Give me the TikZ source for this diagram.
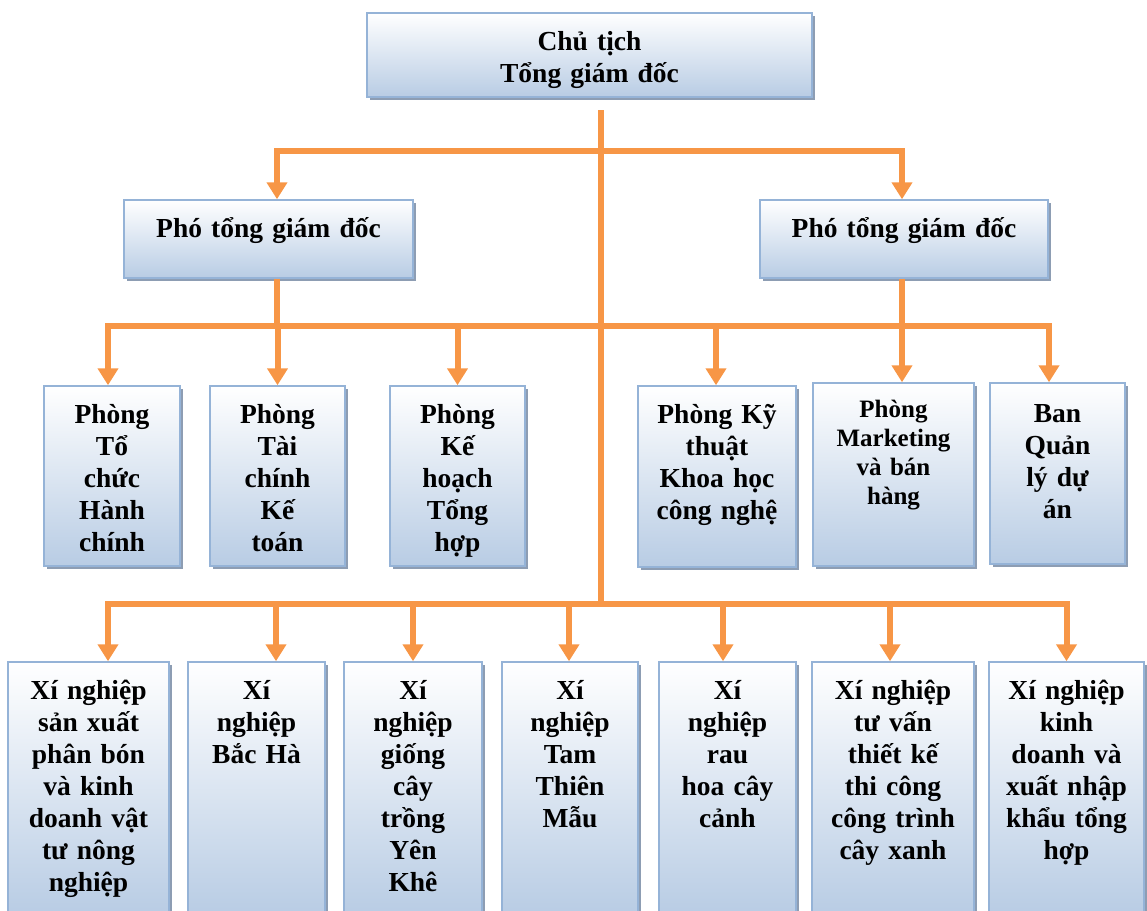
\documentclass[tikz,border=0pt]{standalone}
\usepackage{fontspec}
\setmainfont{Liberation Serif}
\usetikzlibrary{arrows.meta,shadows}

\definecolor{orgline}{HTML}{F79646}
\definecolor{boxline}{HTML}{95B3D7}
\definecolor{boxfill}{HTML}{B8CCE4}
\definecolor{boxshade}{HTML}{8D9DB3}

\tikzset{
  unit/.style={draw=boxline, line width=1.5pt, top color=white, bottom color=boxfill,
    drop shadow={shadow xshift=3pt, shadow yshift=-3pt, fill=boxshade, opacity=1},
    inner sep=0pt, align=center, text height=37pt,
    font=\fontsize{27.5}{32}\selectfont\bfseries},
  wire/.style={draw=orgline, line width=6pt},
  link/.style={wire, -{Triangle[width=20pt,length=17pt]}}
}

\begin{document}
\begin{tikzpicture}[x=1pt, y=-1pt]
    \useasboundingbox (0,0) rectangle (1147,910);

    % leadership
    \node[unit, text width=445pt, text depth=47pt] (ceo) at (589.5,55) {Chủ tịch\\Tổng giám đốc};
    \node[unit, text width=289pt, text depth=41pt] (pgd1) at (268.5,239) {Phó tổng giám đốc};
    \node[unit, text width=288pt, text depth=41pt] (pgd2) at (904,239) {Phó tổng giám đốc};

    % departments
    \node[unit, text width=136pt, text depth=143pt] (p1) at (112,476) {Phòng\\Tổ\\chức\\Hành\\chính};
    \node[unit, text width=135pt, text depth=143pt] (p2) at (277.5,476) {Phòng\\Tài\\chính\\Kế\\toán};
    \node[unit, text width=135pt, text depth=143pt] (p3) at (457.5,476) {Phòng\\Kế\\hoạch\\Tổng\\hợp};
    \node[unit, text width=158pt, text depth=144pt] (p4) at (717,476.5) {Phòng Kỹ\\thuật\\Khoa học\\công nghệ};
    \node[unit, text width=161pt, text height=34pt, text depth=149pt,
          font=\fontsize{25}{29}\selectfont\bfseries] (p5) at (893.5,474.5) {Phòng\\Marketing\\và bán\\hàng};
    \node[unit, text width=135pt, text height=39pt, text depth=142pt] (p6) at (1057.5,473.5) {Ban\\Quản\\lý dự\\án};

    % enterprises
    \node[unit, text width=161pt, text depth=216pt] (x1) at (88.5,788.5) {Xí nghiệp\\sản xuất\\phân bón\\và kinh\\doanh vật\\tư nông\\nghiệp};
    \node[unit, text width=137pt, text depth=216pt] (x2) at (256.5,788.5) {Xí\\nghiệp\\Bắc Hà};
    \node[unit, text width=138pt, text depth=216pt] (x3) at (413,788.5) {Xí\\nghiệp\\giống\\cây\\trồng\\Yên\\Khê};
    \node[unit, text width=136pt, text depth=216pt] (x4) at (570,788.5) {Xí\\nghiệp\\Tam\\Thiên\\Mẫu};
    \node[unit, text width=137pt, text depth=216pt] (x5) at (727.5,788.5) {Xí\\nghiệp\\rau\\hoa cây\\cảnh};
    \node[unit, text width=162pt, text depth=216pt] (x6) at (893,788.5) {Xí nghiệp\\tư vấn\\thiết kế\\thi công\\công trình\\cây xanh};
    \node[unit, text width=155pt, text depth=216pt] (x7) at (1066.5,788.5) {Xí nghiệp\\kinh\\doanh và\\xuất nhập\\khẩu tổng\\hợp};

    % connectors
    \coordinate (t0) at (601,110);
    \coordinate (b1) at (601,151);
    \coordinate (b2) at (601,326);
    \coordinate (b3) at (601,604);
    \draw[wire] (t0) -- (b3);
    \draw[link] (b1) -| ([xshift=8.5pt]pgd1.north);
    \draw[link] (b1) -| ([xshift=-2pt]pgd2.north);
    \draw[wire] ([xshift=8.5pt]pgd1.south) |- (b2);
    \draw[wire] ([xshift=-2pt]pgd2.south) |- (b2);
    \foreach \n/\dx in {p1/-4, p2/0, p3/0, p4/-1, p5/8.5, p6/-8.5}{
        \draw[link] (b2) -| ([xshift=\dx pt]\n.north);
    }
    \foreach \n/\dx in {x1/19.5, x2/19.5, x3/0, x4/-1, x5/-4.5, x6/-3, x7/0}{
        \draw[link] (b3) -| ([xshift=\dx pt]\n.north);
    }
\end{tikzpicture}
\end{document}
